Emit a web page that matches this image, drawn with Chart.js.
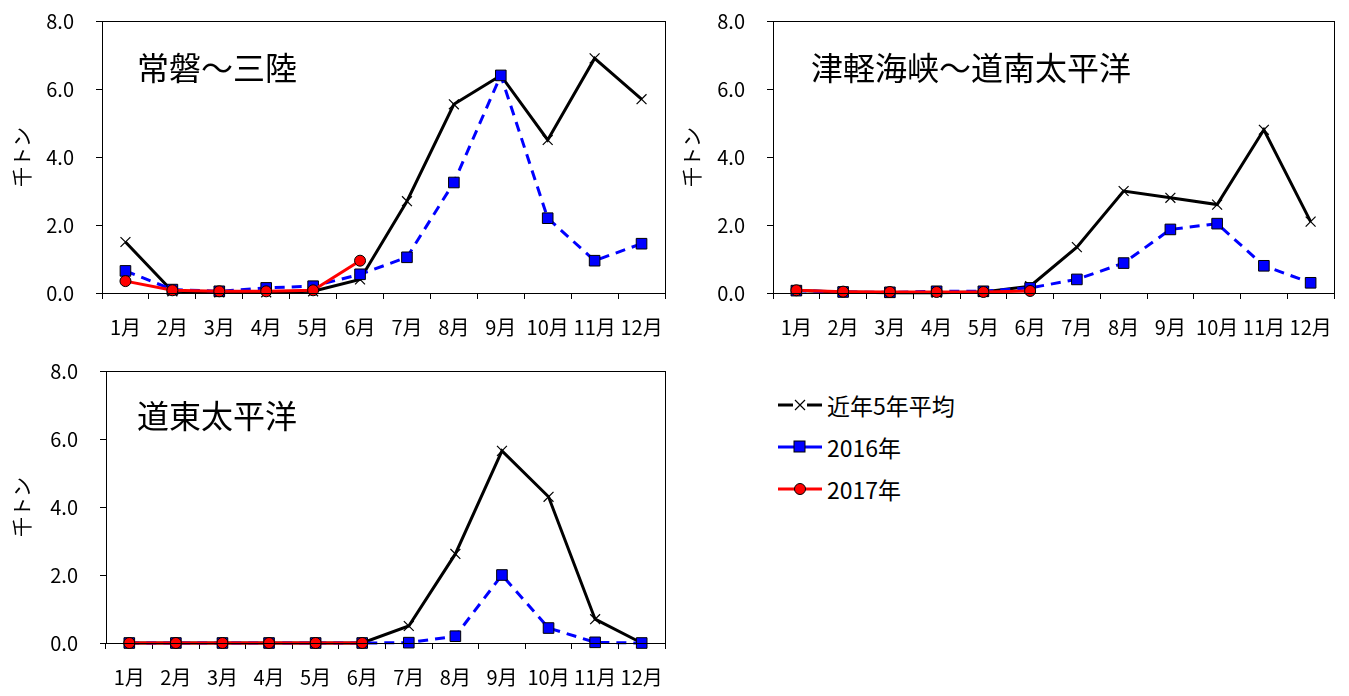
<!DOCTYPE html>
<html lang="ja">
<head>
<meta charset="utf-8">
<title>月別漁獲量</title>
<script src="https://cdn.jsdelivr.net/npm/chart.js@4"></script>
<style>
    body { margin: 0; background: #fff; font-family: "Noto Sans CJK JP", sans-serif; }
    .panel { position: absolute; }
    .area-title { position: absolute; font-size: 32px; color: #000; white-space: nowrap; line-height: 1; }
    #legend { position: absolute; left: 776px; top: 384px; }
    .legend-row { display: flex; align-items: center; height: 42px; font-size: 23px; color: #000; }
    .legend-row svg { margin-right: 3px; }
</style>
</head>
<body>
<div class="panel" style="left:0;top:0;width:680px;height:345px"><canvas id="chartJoban"></canvas></div>
<div class="panel" style="left:670px;top:0;width:679px;height:345px"><canvas id="chartTsugaru"></canvas></div>
<div class="panel" style="left:0;top:350px;width:680px;height:346px"><canvas id="chartDoto"></canvas></div>

<div class="area-title" style="left:137px;top:50px">常磐～三陸</div>
<div class="area-title" style="left:811px;top:50px">津軽海峡～道南太平洋</div>
<div class="area-title" style="left:137px;top:398px">道東太平洋</div>

<div id="legend">
    <div class="legend-row">
        <svg width="48" height="20"><line x1="2" y1="10" x2="46" y2="10" stroke="#000" stroke-width="3"/><rect x="17" y="3" width="14" height="14" fill="#fff"/><path d="M19 5 L29 15 M29 5 L19 15" stroke="#000" stroke-width="1.2"/></svg>
        <span>近年5年平均</span>
    </div>
    <div class="legend-row">
        <svg width="48" height="20"><line x1="2" y1="10" x2="46" y2="10" stroke="#0000ff" stroke-width="3"/><rect x="18" y="4" width="11" height="11" fill="#0000ff" stroke="#000" stroke-width="1"/></svg>
        <span>2016年</span>
    </div>
    <div class="legend-row">
        <svg width="48" height="20"><line x1="2" y1="10" x2="46" y2="10" stroke="#ff0000" stroke-width="3"/><circle cx="24" cy="10" r="5.5" fill="#ff0000" stroke="#000" stroke-width="1"/></svg>
        <span>2017年</span>
    </div>
</div>

<script>
const months = ["1月", "2月", "3月", "4月", "5月", "6月", "7月", "8月", "9月", "10月", "11月", "12月"];
const yTicks = [0, 2, 4, 6, 8];

// 常磐～三陸 (千トン)
const jobanAvg = [1.5, 0.05, 0.02, 0.02, 0.05, 0.4, 2.7, 5.55, 6.4, 4.5, 6.9, 5.7];
const joban2016 = [0.65, 0.1, 0.05, 0.15, 0.2, 0.55, 1.05, 3.25, 6.4, 2.2, 0.95, 1.45];
const joban2017 = [0.35, 0.08, 0.05, 0.05, 0.08, 0.95, null, null, null, null, null, null];

// 津軽海峡～道南太平洋
const tsugaruAvg = [0.07, 0.03, 0.01, 0.01, 0.03, 0.2, 1.35, 3.0, 2.8, 2.6, 4.8, 2.1];
const tsugaru2016 = [0.07, 0.03, 0.02, 0.05, 0.05, 0.15, 0.4, 0.88, 1.87, 2.04, 0.8, 0.3];
const tsugaru2017 = [0.08, 0.04, 0.03, 0.03, 0.03, 0.06, null, null, null, null, null, null];

// 道東太平洋
const dotoAvg = [0, 0, 0, 0, 0, 0, 0.5, 2.62, 5.65, 4.3, 0.7, 0];
const doto2016 = [0, 0, 0, 0, 0, 0, 0.01, 0.2, 2.0, 0.44, 0.02, 0];
const doto2017 = [0, 0, 0, 0, 0, 0, null, null, null, null, null, null];

const tickFont = { family: "'Noto Sans CJK JP', sans-serif", size: 20 };

// plot area frame (top + right lines too)
const frameBox = {
    id: "frameBox",
    afterDraw(chart) {
        const { ctx, chartArea } = chart;
        ctx.save();
        ctx.strokeStyle = "#000";
        ctx.lineWidth = 1;
        ctx.strokeRect(chartArea.left + 0.5, chartArea.top + 0.5,
            chartArea.right - chartArea.left, chartArea.bottom - chartArea.top);
        ctx.restore();
    }
};

function makeChart(canvasId, avg, y2016, y2017, box) {
    const ctx = document.getElementById(canvasId);
    return new Chart(ctx, {
        type: "line",
        data: {
            labels: months,
            datasets: [
                {
                    label: "近年5年平均",
                    data: avg,
                    borderColor: "#000",
                    borderWidth: 3,
                    pointStyle: "crossRot",
                    pointRadius: 7,
                    pointBorderWidth: 1.2,
                    pointBorderColor: "#000",
                    pointBackgroundColor: "#000",
                    order: 3,
                    clip: false
                },
                {
                    label: "2016年",
                    data: y2016,
                    borderColor: "#0000ff",
                    borderWidth: 3,
                    borderDash: [10, 7],
                    pointStyle: "rect",
                    pointRadius: 7.5,
                    pointBorderWidth: 1,
                    pointBorderColor: "#000",
                    pointBackgroundColor: "#0000ff",
                    order: 2,
                    clip: false
                },
                {
                    label: "2017年",
                    data: y2017,
                    borderColor: "#ff0000",
                    borderWidth: 3,
                    pointStyle: "circle",
                    pointRadius: 5.5,
                    pointBorderWidth: 1,
                    pointBorderColor: "#000",
                    pointBackgroundColor: "#ff0000",
                    order: 1,
                    spanGaps: false,
                    clip: false
                }
            ]
        },
        options: {
            responsive: true,
            maintainAspectRatio: false,
            animation: false,
            layout: { padding: { top: box.top, right: box.right, bottom: 0, left: 0 } },
            plugins: { legend: { display: false }, tooltip: { enabled: false } },
            scales: {
                x: {
                    offset: true,
                    grid: { offset: true, drawOnChartArea: false, tickLength: 6, color: "#000" },
                    border: { color: "#000", width: 1 },
                    ticks: { color: "#000", font: tickFont, padding: 16, autoSkip: false, maxRotation: 0 },
                    afterFit(scale) {
                        scale.height = box.xHeight;
                        scale.paddingLeft = 0;
                        scale.paddingRight = 0;
                    }
                },
                y: {
                    min: 0,
                    max: 8,
                    afterBuildTicks(scale) { scale.ticks = yTicks.map(v => ({ value: v })); },
                    grid: { drawOnChartArea: false, tickLength: 6, color: "#000" },
                    border: { color: "#000", width: 1 },
                    ticks: { color: "#000", font: tickFont, padding: 22, callback: v => v.toFixed(1) },
                    title: { display: true, text: "千トン", color: "#000", font: { family: tickFont.family, size: 20 }, padding: { top: 10, bottom: 0 } },
                    afterFit(scale) {
                        scale.width = box.yWidth;
                        scale.paddingTop = 0;
                        scale.paddingBottom = 0;
                    }
                }
            }
        },
        plugins: [frameBox]
    });
}

makeChart("chartJoban", jobanAvg, joban2016, joban2017, { top: 21, right: 15, xHeight: 52, yWidth: 102 });
makeChart("chartTsugaru", tsugaruAvg, tsugaru2016, tsugaru2017, { top: 21, right: 15, xHeight: 52, yWidth: 103 });
makeChart("chartDoto", dotoAvg, doto2016, doto2017, { top: 21, right: 15, xHeight: 53, yWidth: 106 });
</script>
</body>
</html>
